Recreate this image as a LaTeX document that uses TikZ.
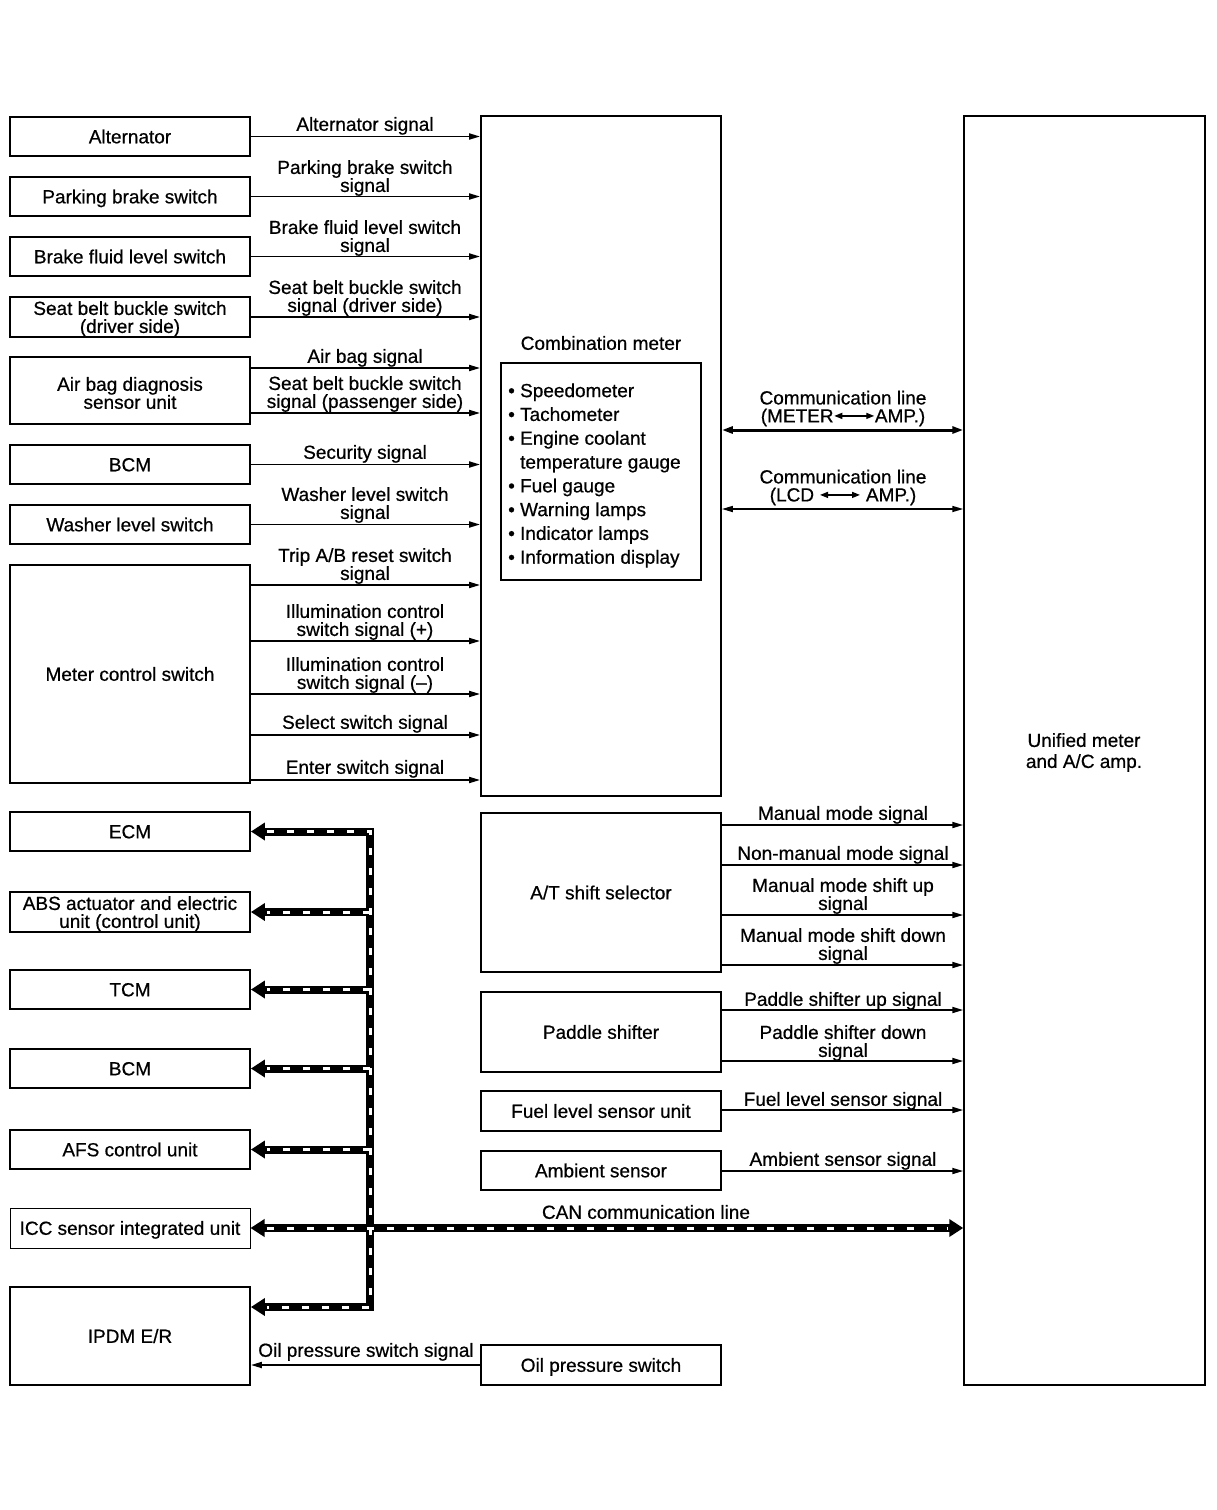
\documentclass[tikz,border=0pt]{standalone}
\usepackage{fontspec}
\setmainfont{Liberation Sans}[FakeBold=0.6]
\usetikzlibrary{arrows.meta}
\newcommand{\dgfont}{\fontsize{19}{18}\selectfont}
\newcommand{\dblarr}{\tikz[baseline=0pt]\draw[line width=1.3pt,{Triangle[length=8pt,width=6pt]}-{Triangle[length=8pt,width=6pt]}] (0pt,6.5pt) -- (40pt,6.5pt);}
\tikzset{
  box/.style={draw, line width=1.8pt, minimum width=240pt, inner sep=2pt, align=center, font=\dgfont, text height=17.6pt, text depth=4pt},
  plain/.style={draw, line width=1.8pt, minimum width=240pt, inner sep=0pt},
  lbl/.style={inner sep=0pt, align=center, font=\dgfont},
  tx/.style={text height=17.6pt, text depth=4pt},
  sig/.style={line width=1.8pt, -{Triangle[length=11pt,width=6pt]}},
  comm/.style={line width=1.6pt, {Triangle[length=11pt,width=6pt]}-{Triangle[length=11pt,width=6pt]}},
  canb/.style={line width=8pt, line join=miter, draw=black},
  canw/.style={line width=3pt, draw=white, dash pattern=on 7pt off 13pt},
  cantip/.style={arrows={-Triangle[length=14pt,width=17pt]}},
}
\begin{document}
\begin{tikzpicture}[x=1pt,y=-1pt]
\useasboundingbox (0,0) rectangle (1216,1510);

% left column
\node[box, minimum height=39pt] (alt) at (130,136.5) {Alternator};
\node[box, minimum height=39pt] (pbs) at (130,196.5) {Parking brake switch};
\node[box, minimum height=39pt] (bfl) at (130,256.5) {Brake fluid level switch};
\node[plain, minimum height=40pt] (sbd) at (130,317) {};
\node[lbl] (sbdt) at (130,319) {Seat belt buckle switch\\(driver side)};
\node[plain, minimum height=67pt] (abd) at (130,390.5) {};
\node[lbl] (abdt) at (130,393) {Air bag diagnosis\\sensor unit};
\node[box, minimum height=39pt] (bcma) at (130,464.5) {BCM};
\node[box, minimum height=39pt] (wls) at (130,524.5) {Washer level switch};
\node[box, minimum height=218pt] (mcs) at (130,674) {Meter control switch};
\node[box, minimum height=39pt] (ecm) at (130,831.5) {ECM};
\node[plain, minimum height=40pt] (abs) at (130,912) {};
\node[lbl] (abst) at (130,914) {ABS actuator and electric\\unit (control unit)};
\node[box, minimum height=39pt] (tcm) at (130,989.5) {TCM};
\node[box, minimum height=39pt] (bcmb) at (130,1068.5) {BCM};
\node[box, minimum height=39pt] (afs) at (130,1149.5) {AFS control unit};
\node[box, line width=1pt, minimum height=40pt] (icc) at (130,1228) {ICC sensor integrated unit};
\node[box, minimum height=98pt] (ipdm) at (130,1336) {IPDM E/R};

% middle column
\node[plain, minimum height=680pt] (cm) at (601,456) {};
\node[lbl, tx] (cmt) at (601,343) {Combination meter};
\node[plain, minimum width=200pt, minimum height=217pt] (lst) at (601,471.5) {};
\node[inner sep=0pt, anchor=west, align=left, font=\fontsize{19}{23.8}\selectfont] (lstt) at (508,475.5)
 {\textbullet\ Speedometer\\
  \textbullet\ Tachometer\\
  \textbullet\ Engine coolant\\
  \phantom{\textbullet\ }temperature gauge\\
  \textbullet\ Fuel gauge\\
  \textbullet\ Warning lamps\\
  \textbullet\ Indicator lamps\\
  \textbullet\ Information display};
\node[box, minimum height=159pt] (ats) at (601,892.5) {A/T shift selector};
\node[box, minimum height=80pt] (pad) at (601,1032) {Paddle shifter};
\node[box, minimum height=40pt] (fls) at (601,1111) {Fuel level sensor unit};
\node[box, minimum height=39pt] (amb) at (601,1170.5) {Ambient sensor};
\node[box, minimum height=40pt] (ops) at (601,1365) {Oil pressure switch};

% right column
\node[plain, line width=1.5pt, minimum width=241pt, minimum height=1269pt] (uni) at (1084.5,750.5) {};
\node[lbl, font=\fontsize{19}{21}\selectfont] (unit) at (1084,752.5) {Unified meter\\and A/C amp.};

% signals into combination meter
\draw[sig] (alt.east) -- (alt.east -| cm.west);
\node[lbl, tx] (l1) at (365,124) {Alternator signal};
\draw[sig] (pbs.east) -- (pbs.east -| cm.west);
\node[lbl] (l2) at (365,178) {Parking brake switch\\signal};
\draw[sig] (bfl.east) -- (bfl.east -| cm.west);
\node[lbl] (l3) at (365,238) {Brake fluid level switch\\signal};
\draw[sig] (sbd.east) -- (sbd.east -| cm.west);
\node[lbl] (l4) at (365,298) {Seat belt buckle switch\\signal (driver side)};
\draw[sig] (abd.east |- 0,368) -- (cm.west |- 0,368);
\node[lbl, tx] (l5) at (365,356) {Air bag signal};
\draw[sig] (abd.east |- 0,413) -- (cm.west |- 0,413);
\node[lbl] (l6) at (365,394) {Seat belt buckle switch\\signal (passenger side)};
\draw[sig] (bcma.east) -- (bcma.east -| cm.west);
\node[lbl, tx] (l7) at (365,452) {Security signal};
\draw[sig] (wls.east) -- (wls.east -| cm.west);
\node[lbl] (l8) at (365,505) {Washer level switch\\signal};
\draw[sig] (mcs.east |- 0,585) -- (cm.west |- 0,585);
\node[lbl] (l9) at (365,566) {Trip A/B reset switch\\signal};
\draw[sig] (mcs.east |- 0,641) -- (cm.west |- 0,641);
\node[lbl] (l10) at (365,622) {Illumination control\\switch signal (+)};
\draw[sig] (mcs.east |- 0,694) -- (cm.west |- 0,694);
\node[lbl] (l11) at (365,675) {Illumination control\\switch signal (--)};
\draw[sig] (mcs.east |- 0,735) -- (cm.west |- 0,735);
\node[lbl, tx] (l12) at (365,722) {Select switch signal};
\draw[sig] (mcs.east |- 0,780) -- (cm.west |- 0,780);
\node[lbl, tx] (l13) at (365,767) {Enter switch signal};

% communication lines
\draw[line width=3pt, {Triangle[length=11pt,width=7pt]}-{Triangle[length=11pt,width=7pt]}] (cm.east |- 0,430) -- (uni.west |- 0,430);
\node[lbl] (c1) at (843,408.5) {Communication line\\(METER\dblarr AMP.)};
\draw[comm] (cm.east |- 0,509) -- (uni.west |- 0,509);
\node[lbl] (c2) at (843,487.5) {Communication line\\(LCD \dblarr\ AMP.)};

% signals into unified meter
\draw[sig] (ats.east |- 0,825) -- (uni.west |- 0,825);
\node[lbl, tx] (r1) at (843,813) {Manual mode signal};
\draw[sig] (ats.east |- 0,865) -- (uni.west |- 0,865);
\node[lbl, tx] (r2) at (843,853) {Non-manual mode signal};
\draw[sig] (ats.east |- 0,915) -- (uni.west |- 0,915);
\node[lbl] (r3) at (843,896) {Manual mode shift up\\signal};
\draw[sig] (ats.east |- 0,965) -- (uni.west |- 0,965);
\node[lbl] (r4) at (843,946) {Manual mode shift down\\signal};
\draw[sig] (pad.east |- 0,1010) -- (uni.west |- 0,1010);
\node[lbl, tx] (r5) at (843,999) {Paddle shifter up signal};
\draw[sig] (pad.east |- 0,1061) -- (uni.west |- 0,1061);
\node[lbl] (r6) at (843,1043) {Paddle shifter down\\signal};
\draw[sig] (fls.east |- 0,1110) -- (uni.west |- 0,1110);
\node[lbl, tx] (r7) at (843,1099) {Fuel level sensor signal};
\draw[sig] (amb.east |- 0,1171) -- (uni.west |- 0,1171);
\node[lbl, tx] (r8) at (843,1159) {Ambient sensor signal};

% oil pressure
\draw[sig] (ops.west) -- (ops.west -| ipdm.east);
\node[lbl, tx] (o1) at (366,1350) {Oil pressure switch signal};

% CAN bus
\coordinate (bt) at (370,831.5);
\coordinate (bb) at (370,1307);
\coordinate (ib) at (ipdm.east |- bb);
\coordinate (ur) at (uni.west |- icc.east);
\draw[canb, {Triangle[length=14pt,width=17pt]}-{Triangle[length=14pt,width=17pt]}] (ecm.east) -- (bt) -- (bb) -- (ib);
\draw[canb, cantip] (bt |- abs.east) -- (abs.east);
\draw[canb, cantip] (bt |- tcm.east) -- (tcm.east);
\draw[canb, cantip] (bt |- bcmb.east) -- (bcmb.east);
\draw[canb, cantip] (bt |- afs.east) -- (afs.east);
\draw[canb, {Triangle[length=14pt,width=17pt]}-{Triangle[length=14pt,width=17pt]}] (icc.east) -- (ur);
\draw[canw, shorten >=16pt, shorten <=16pt] (ecm.east) -- (bt) -- (bb) -- (ib);
\draw[canw, shorten >=16pt] (bt |- abs.east) -- (abs.east);
\draw[canw, shorten >=16pt] (bt |- tcm.east) -- (tcm.east);
\draw[canw, shorten >=16pt] (bt |- bcmb.east) -- (bcmb.east);
\draw[canw, shorten >=16pt] (bt |- afs.east) -- (afs.east);
\draw[canw, shorten >=16pt, shorten <=16pt] (icc.east) -- (ur);
\node[lbl, tx] (canl) at (646,1212) {CAN communication line};
\end{tikzpicture}
\end{document}
